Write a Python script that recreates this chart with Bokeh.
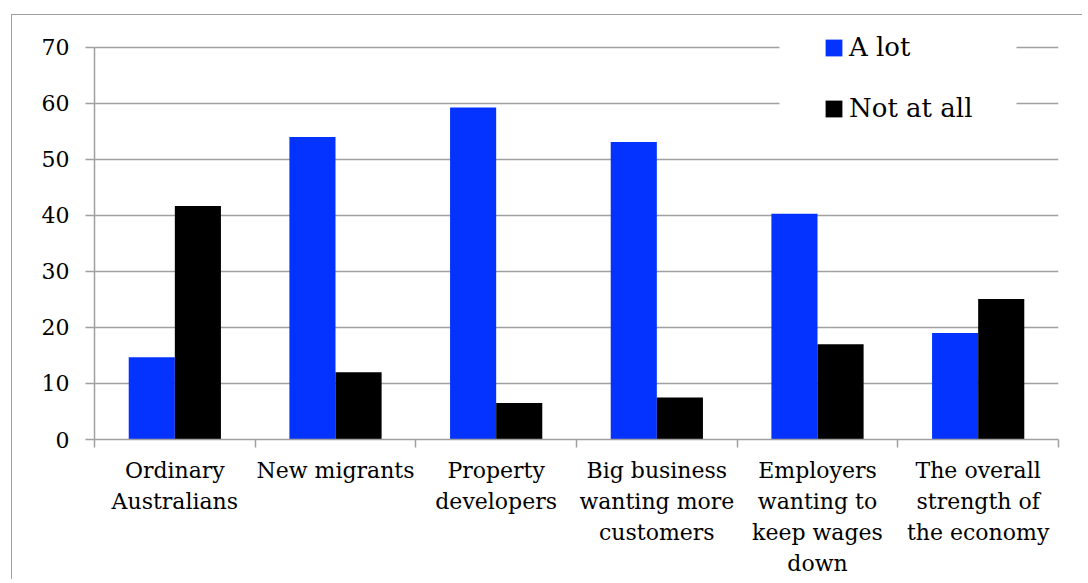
from bokeh.plotting import figure
from bokeh.models import Range1d, FixedTicker, Legend, LegendItem, BoxAnnotation
from bokeh.embed import file_html
from bokeh.resources import INLINE

# ---- data ----
categories = [
    "Ordinary\nAustralians",
    "New migrants",
    "Property\ndevelopers",
    "Big business\nwanting more\ncustomers",
    "Employers\nwanting to\nkeep wages\ndown",
    "The overall\nstrength of\nthe economy",
]
a_lot = [14.7, 54.0, 59.3, 53.1, 40.3, 19.0]
not_at_all = [41.7, 12.0, 6.5, 7.5, 17.0, 25.1]
series_names = ["A lot", "Not at all"]
y_ticks = [0, 10, 20, 30, 40, 50, 60, 70]

# ---- styling ----
BLUE = "#0433ff"
BLACK = "#000000"
GRAY = "#a0a0a0"
FONT = "DejaVu Serif"

n = len(categories)
centers = [i + 0.5 for i in range(n)]
bw = 0.287

p = figure(
    width=1071, height=565,
    x_range=Range1d(0, n), y_range=Range1d(0, 75.71),
    output_backend="svg", toolbar_location=None,
    min_border_left=82, min_border_top=0, min_border_right=25, min_border_bottom=141,
)
p.margin = (14, 0, 0, 11)
p.styles = {"border-top": "1px solid #a0a0a0", "border-left": "1px solid #a0a0a0"}
p.outline_line_color = None
p.background_fill_color = "white"
p.border_fill_color = "white"

r1 = p.vbar(x=[c - bw / 2 for c in centers], top=a_lot, width=bw,
            fill_color=BLUE, line_color=None)
r2 = p.vbar(x=[c + bw / 2 for c in centers], top=not_at_all, width=bw,
            fill_color=BLACK, line_color=None)

# y axis
p.yaxis.ticker = FixedTicker(ticks=y_ticks)
p.yaxis.bounds = (0, 70)
p.yaxis.axis_line_color = GRAY
p.yaxis.axis_line_width = 1.5
p.yaxis.major_tick_line_color = GRAY
p.yaxis.major_tick_line_width = 1.5
p.yaxis.major_tick_out = 9
p.yaxis.major_tick_in = 0
p.yaxis.minor_tick_line_color = None
p.yaxis.major_label_text_font = FONT
p.yaxis.major_label_text_font_size = "22px"
p.yaxis.major_label_text_color = "black"
p.yaxis.major_label_standoff = 16

p.ygrid.ticker = FixedTicker(ticks=y_ticks)
p.ygrid.grid_line_color = GRAY
p.ygrid.grid_line_width = 1.5
p.xgrid.grid_line_color = None

# x axis: labels at group centres, tick marks at category boundaries
p.xaxis.ticker = FixedTicker(ticks=centers, minor_ticks=list(range(n + 1)))
p.xaxis.major_label_overrides = {c: cat for c, cat in zip(centers, categories)}
p.xaxis.axis_line_color = GRAY
p.xaxis.axis_line_width = 1.5
p.xaxis.major_tick_line_color = None
p.xaxis.major_tick_out = 8
p.xaxis.major_tick_in = 0
p.xaxis.minor_tick_line_color = GRAY
p.xaxis.minor_tick_line_width = 1.5
p.xaxis.minor_tick_out = 8
p.xaxis.minor_tick_in = 0
p.xaxis.major_label_text_font = FONT
p.xaxis.major_label_text_font_size = "22px"
p.xaxis.major_label_text_color = "black"
p.xaxis.major_label_text_line_height = 1.25
p.xaxis.major_label_standoff = 10

# white box hiding grid lines behind the legend
p.add_layout(BoxAnnotation(left=(780 - 95) / 160.67, right=(1017 - 95) / 160.67,
                           bottom=51, fill_color="white", fill_alpha=1,
                           line_color=None))

legend = Legend(
    items=[LegendItem(label=series_names[0], renderers=[r1]),
           LegendItem(label=series_names[1], renderers=[r2])],
    location=(729, 316),
    label_text_font=FONT, label_text_font_size="26px", label_text_color="black",
    glyph_width=21, glyph_height=21, label_standoff=5,
    padding=0, margin=0, spacing=31, label_height=30,
    background_fill_alpha=0, border_line_color=None,
)
p.add_layout(legend)

open("out.html", "w").write(file_html(p, INLINE))
